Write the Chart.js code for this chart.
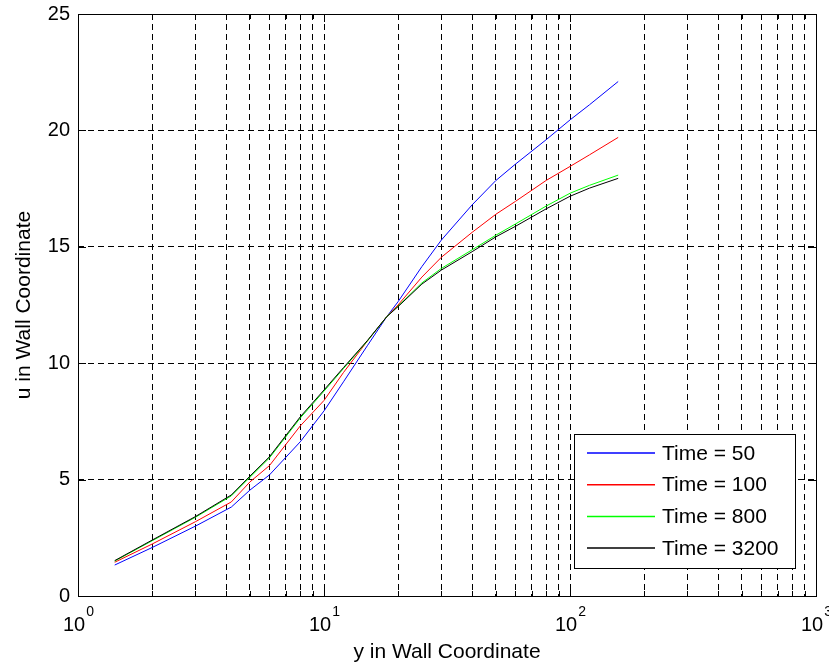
<!DOCTYPE html>
<html>
<head>
<meta charset="utf-8">
<script src="https://cdn.jsdelivr.net/npm/chart.js@4"></script>
<style>
  html, body { margin: 0; padding: 0; background: #fff; }
  #wrap { width: 829px; height: 670px; position: relative; }
</style>
</head>
<body>
<div id="wrap"><canvas id="profile"></canvas></div>
<script>
// wall units: y+ sample positions and u+ for each time step
const yPlus = [1.41, 2, 3, 4.2, 5, 6, 8, 10, 12, 15, 18, 20, 25, 30, 40, 50, 60, 80, 100, 120, 157]

const uTime50   = [1.33, 2.08, 3.0, 3.82, 4.55, 5.2, 6.62, 7.95, 9.2, 10.75, 12.0, 12.64, 14.15, 15.29, 16.8, 17.85, 18.55, 19.6, 20.45, 21.1, 22.1]
const uTime100  = [1.45, 2.23, 3.19, 4.04, 4.9, 5.6, 7.3, 8.4, 9.6, 10.95, 12.0, 12.5, 13.7, 14.55, 15.62, 16.4, 16.95, 17.85, 18.45, 18.95, 19.7]
const uTime800  = [1.5, 2.37, 3.38, 4.3, 5.1, 5.93, 7.64, 8.8, 9.77, 10.95, 12.0, 12.45, 13.45, 14.07, 14.87, 15.5, 15.98, 16.75, 17.3, 17.64, 18.08]
const uTime3200 = [1.52, 2.4, 3.41, 4.34, 5.15, 5.98, 7.69, 8.85, 9.81, 10.97, 12.0, 12.43, 13.4, 14.0, 14.79, 15.43, 15.88, 16.63, 17.17, 17.52, 17.94]

const seriesLabels = ['Time = 50', 'Time = 100', 'Time = 800', 'Time = 3200']
const seriesColors = ['#0000ff', '#ff0000', '#00ff00', '#000000']
const seriesValues = [uTime50, uTime100, uTime800, uTime3200]

const xTickValues = []
for (let d = 1; d <= 100; d *= 10) for (let k = 1; k <= 9; k++) xTickValues.push(k * d)
xTickValues.push(1000)
const xDecades = [1, 10, 100, 1000]
const xDecadeExp = ['0', '1', '2', '3']
const yTickValues = [0, 5, 10, 15, 20, 25]

const FONT = '"Liberation Sans", Arial, sans-serif'

// axes box, inside ticks, tick labels, axis titles and legend in MATLAB style
const matlabFrame = {
  id: 'matlabFrame',
  afterDraw(chart) {
    const { ctx, chartArea: a, scales: { x, y } } = chart
    ctx.save()
    ctx.strokeStyle = '#000'
    ctx.lineWidth = 1
    ctx.setLineDash([])

    // inner tick marks
    ctx.beginPath()
    xTickValues.forEach(v => {
      const px = Math.round(x.getPixelForValue(v)) + 0.5
      const len = xDecades.includes(v) ? 8 : 5
      ctx.moveTo(px, a.bottom); ctx.lineTo(px, a.bottom - len)
      ctx.moveTo(px, a.top);    ctx.lineTo(px, a.top + len)
    })
    yTickValues.forEach(v => {
      const py = Math.round(y.getPixelForValue(v)) + 0.5
      ctx.moveTo(a.left, py);  ctx.lineTo(a.left + 8, py)
      ctx.moveTo(a.right, py); ctx.lineTo(a.right - 8, py)
    })
    ctx.stroke()

    ctx.strokeRect(Math.round(a.left) + 0.5, Math.round(a.top) + 0.5,
                   Math.round(a.right - a.left), Math.round(a.bottom - a.top))

    // y tick labels
    ctx.fillStyle = '#000'
    ctx.font = '20px ' + FONT
    ctx.textAlign = 'right'
    ctx.textBaseline = 'middle'
    yTickValues.forEach(v => ctx.fillText(String(v), a.left - 8, y.getPixelForValue(v)))

    // x tick labels 10^n
    ctx.textAlign = 'left'
    ctx.textBaseline = 'alphabetic'
    xDecades.forEach((v, i) => {
      ctx.font = '20px ' + FONT
      const wBase = ctx.measureText('10').width
      ctx.font = '14px ' + FONT
      const wExp = ctx.measureText(xDecadeExp[i]).width
      const start = x.getPixelForValue(v) - (wBase + wExp) / 2
      ctx.font = '20px ' + FONT
      ctx.fillText('10', start, a.bottom + 35)
      ctx.font = '14px ' + FONT
      ctx.fillText(xDecadeExp[i], start + wBase + 1, a.bottom + 20)
    })

    // axis titles
    ctx.font = '21px ' + FONT
    ctx.textAlign = 'center'
    ctx.textBaseline = 'middle'
    ctx.fillText('y in Wall Coordinate', (a.left + a.right) / 2, a.bottom + 56)
    ctx.translate(24, (a.top + a.bottom) / 2)
    ctx.rotate(-Math.PI / 2)
    ctx.fillText('u in Wall Coordinate', 0, 0)
    ctx.setTransform(1, 0, 0, 1, 0, 0)

    // legend
    const lx = 574.5, ly = 434.5, lw = 221, lh = 134
    ctx.fillStyle = '#fff'
    ctx.fillRect(lx, ly, lw, lh)
    ctx.strokeStyle = '#000'
    ctx.strokeRect(lx, ly, lw, lh)
    ctx.font = '21px ' + FONT
    ctx.textAlign = 'left'
    seriesLabels.forEach((label, i) => {
      const ry = 453 + i * 31.7
      ctx.strokeStyle = seriesColors[i]
      ctx.lineWidth = 1.5
      ctx.beginPath()
      ctx.moveTo(587, ry); ctx.lineTo(655, ry)
      ctx.stroke()
      ctx.fillStyle = '#000'
      ctx.fillText(label, 662, ry + 1)
    })
    ctx.restore()
  }
}

const hideEdge = (lo, hi) => c => (c.tick && (c.tick.value === lo || c.tick.value === hi)) ? 'rgba(0,0,0,0)' : '#000'

new Chart(document.getElementById('profile'), {
  type: 'line',
  data: {
    datasets: seriesValues.map((vals, i) => ({
      label: seriesLabels[i],
      data: yPlus.map((yp, j) => ({ x: yp, y: vals[j] })),
      borderColor: seriesColors[i],
      borderWidth: 1,
      pointRadius: 0,
      tension: 0,
      fill: false,
      order: seriesValues.length - i,
    })),
  },
  options: {
    responsive: true,
    maintainAspectRatio: false,
    animation: false,
    layout: { padding: { left: 78, right: 13, top: 14, bottom: 74 } },
    plugins: { legend: { display: false }, tooltip: { enabled: false } },
    scales: {
      x: {
        type: 'logarithmic',
        min: 1,
        max: 1000,
        afterBuildTicks: s => { s.ticks = xTickValues.map(v => ({ value: v })) },
        ticks: { display: false },
        grid: { color: hideEdge(1, 1000), lineWidth: 1, drawTicks: false },
        border: { display: false, dash: [6, 4] },
      },
      y: {
        type: 'linear',
        min: 0,
        max: 25,
        afterBuildTicks: s => { s.ticks = yTickValues.map(v => ({ value: v })) },
        ticks: { display: false },
        grid: { color: hideEdge(0, 25), lineWidth: 1, drawTicks: false },
        border: { display: false, dash: [6, 4] },
      },
    },
  },
  plugins: [matlabFrame],
})
</script>
</body>
</html>
